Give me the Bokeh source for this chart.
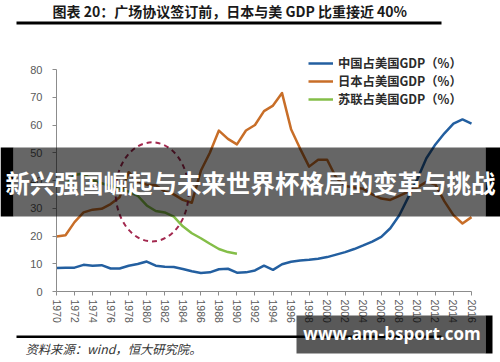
from bokeh.plotting import figure
from bokeh.models import Range1d, FixedTicker, Legend, LegendItem, BoxAnnotation, Label
from bokeh.embed import file_html
from bokeh.resources import INLINE

# ---------------- data ----------------
years = list(range(1970, 2017))
china = [8.5, 8.6, 8.6, 9.6, 9.3, 9.5, 8.3, 8.3, 9.3, 9.9,
         10.8, 9.3, 8.9, 8.8, 8.1, 7.3, 6.7, 6.9, 8.0, 8.2,
         6.8, 6.9, 7.6, 9.3, 7.8, 9.8, 10.7, 11.2, 11.4, 11.8,
         12.4, 13.3, 14.2, 15.3, 16.6, 18.0, 19.7, 22.8, 27.5, 34.0,
         40.5, 48.0, 53.0, 57.0, 60.5, 62.0, 60.5]
japan = [19.8, 20.3, 25.0, 28.5, 29.5, 29.8, 31.5, 34.0, 43.0, 39.5,
         38.5, 38.3, 36.0, 35.0, 33.0, 32.0, 43.5, 50.0, 58.0, 55.0,
         53.0, 58.0, 60.0, 65.0, 67.0, 71.5, 58.5, 51.5, 45.0, 47.5,
         47.5, 41.0, 38.0, 37.5, 37.0, 35.0, 33.5, 33.0, 34.5, 36.0,
         37.5, 39.5, 38.5, 32.5, 27.5, 24.5, 26.8]
ussr_years = list(range(1971, 1991))
ussr = [38.5, 42.0, 42.5, 40.0, 39.0, 38.0, 37.0, 36.0, 34.5, 31.0,
        29.0, 28.5, 27.0, 23.5, 21.0, 19.2, 17.2, 15.3, 14.2, 13.6]

y_ticks = [0, 10, 20, 30, 40, 50, 60, 70, 80]
x_ticks = list(range(1970, 2017, 2))

series_names = ["中国占美国GDP（%）", "日本占美国GDP（%）", "苏联占美国GDP（%）"]
title_text = "图表 20：广场协议签订前，日本与美 GDP 比重接近 40%"
source_text = "资料来源：wind，恒大研究院。"
banner_text = "新兴强国崛起与未来世界杯格局的变革与挑战"
watermark_text = "www.am-bsport.com"

BLUE = "#235fa0"
ORANGE = "#c86e28"
GREEN = "#84be48"
CJK = "Noto Sans CJK SC"

W, H = 500, 362
# plot area inside the canvas: x 56..471 px, y 69..291 px (from top)
PX_L, PX_R, PX_T, PX_B = 56, 471, 69, 291
x0, x1 = years[0], years[-1]
y0, y1 = y_ticks[0], y_ticks[-1]
sx = (PX_R - PX_L) / (x1 - x0)
sy = (PX_B - PX_T) / (y1 - y0)

p = figure(width=W, height=H,
           x_range=Range1d(x0 - PX_L / sx, x1 + (W - PX_R) / sx),
           y_range=Range1d(y0 - (H - PX_B) / sy, y1 + PX_T / sy),
           output_backend="svg", toolbar_location=None,
           min_border_left=0, min_border_right=0, min_border_top=0, min_border_bottom=0)
p.xgrid.visible = False
p.ygrid.visible = False
p.outline_line_color = None
p.background_fill_color = "white"
p.border_fill_color = "white"

for ax in (p.xaxis[0], p.yaxis[0]):
    ax.axis_line_color = "#8c8c8c"
    ax.major_tick_line_color = "#8c8c8c"
    ax.minor_tick_line_color = None
    ax.major_tick_in = 0
    ax.major_tick_out = 4
    ax.major_label_text_color = "#595959"
    ax.major_label_text_font = "Liberation Sans"

p.yaxis.ticker = FixedTicker(ticks=y_ticks)
p.yaxis.fixed_location = x0
p.yaxis.bounds = (y0, y1)
p.yaxis.major_label_text_font_size = "11px"
p.yaxis.major_label_standoff = 10
p.xaxis.ticker = FixedTicker(ticks=x_ticks)
p.xaxis.fixed_location = y0
p.xaxis.bounds = (x0, x1)
p.xaxis.major_label_text_font_size = "10.5px"
p.xaxis.major_label_orientation = "vertical"
p.xaxis.major_label_standoff = 4

r_cn = p.line(years, china, line_color=BLUE, line_width=2.5, line_join="round")
r_jp = p.line(years, japan, line_color=ORANGE, line_width=2.5, line_join="round")
r_su = p.line(ussr_years, ussr, line_color=GREEN, line_width=2.5, line_join="round")

p.ellipse(x=[1980.6], y=[35.9], width=[8.1], height=[35.7], fill_color=None,
          line_color="#a3294f", line_width=2, line_dash="5 4")

# one single-row legend per series so the row pitch matches the reference
ROW_H = 18
for name, rend, row_center in zip(series_names, [r_cn, r_jp, r_su], [63, 81, 99]):
    lg = Legend(items=[LegendItem(label=name, renderers=[rend])],
                location=(308, H - (row_center + ROW_H / 2)), padding=0, margin=0, spacing=0,
                glyph_width=25, glyph_height=ROW_H, label_height=ROW_H, label_standoff=5,
                label_text_font=CJK, label_text_font_style="bold",
                label_text_font_size="12.3px", label_text_color="#2b2b2b",
                border_line_color=None, background_fill_alpha=0)
    p.add_layout(lg)

def box(l, r, t, b, color="black", alpha=1.0):
    p.add_layout(BoxAnnotation(left=l, right=r, top=t, bottom=b,
                               left_units="screen", right_units="screen",
                               top_units="screen", bottom_units="screen",
                               fill_color=color, fill_alpha=alpha, line_color=None,
                               level="overlay"))

# title, rules and source (screen units, y measured from canvas bottom)
p.add_layout(Label(x=52, y=H - 10.5, x_units="screen", y_units="screen", text=title_text,
                   text_font=CJK, text_font_style="bold", text_font_size="14px",
                   text_color="#1a1a1a", text_baseline="middle", text_align="left"))
box(16, 441, H - 21, H - 24)
box(16, 441, H - 335, H - 337.5)
p.add_layout(Label(x=25, y=H - 348, x_units="screen", y_units="screen", text=source_text,
                   text_font=CJK, text_font_style="italic", text_font_size="12.3px",
                   text_color="#333333", text_baseline="middle", text_align="left"))

# banner overlay
box(13, 485, H - 147, H - 216, "black", 0.6)
box(0, 13, H - 147, H - 216)
box(485, 500, H - 147, H - 216)
p.add_layout(Label(x=250, y=H - 182, x_units="screen", y_units="screen", text=banner_text,
                   text_font=CJK, text_font_style="bold", text_font_size="24.5px",
                   text_color="white", text_baseline="middle", text_align="center",
                   level="overlay"))

# watermark
box(296, 485, H - 315, H - 353, "black", 0.65)
box(485, 492, H - 315, H - 353)
p.add_layout(Label(x=391.5, y=H - 333, x_units="screen", y_units="screen", text=watermark_text,
                   text_font="Open Sans", text_font_style="bold", text_font_size="17px",
                   text_color="white", text_baseline="middle", text_align="center",
                   level="overlay"))

open("out.html", "w").write(file_html(p, INLINE))
